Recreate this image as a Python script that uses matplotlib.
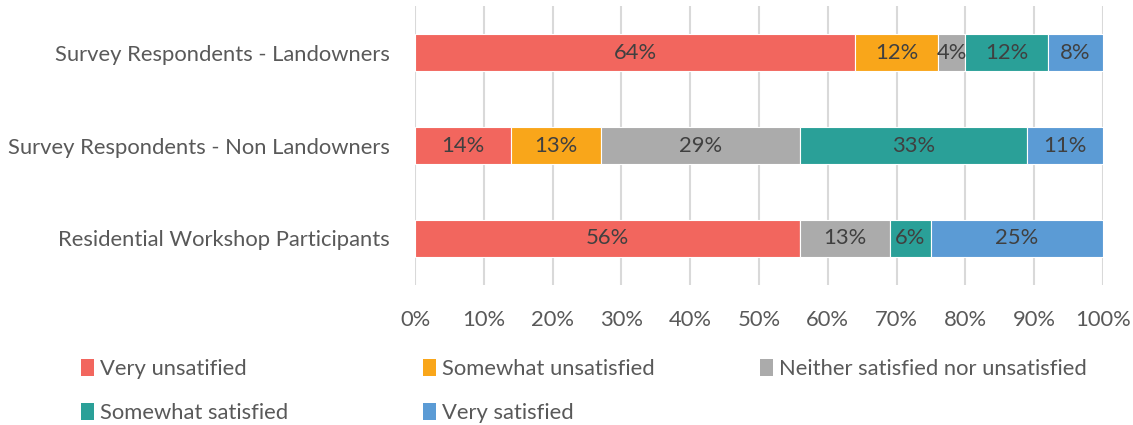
import numpy as np
import matplotlib.pyplot as plt
from matplotlib.patches import Patch
from matplotlib.ticker import MultipleLocator, PercentFormatter

# Groups, top to bottom
groups = ["Survey Respondents - Landowners",
          "Survey Respondents - Non Landowners",
          "Residential Workshop Participants"]

categories = ["Very unsatified", "Somewhat unsatisfied",
              "Neither satisfied nor unsatisfied",
              "Somewhat satisfied", "Very satisfied"]

very_unsatisfied = [64, 14, 56]
somewhat_unsatisfied = [12, 13, 0]
neither = [4, 29, 13]
somewhat_satisfied = [12, 33, 6]
very_satisfied = [8, 11, 25]

series = [very_unsatisfied, somewhat_unsatisfied, neither,
          somewhat_satisfied, very_satisfied]
colors = ["#F2665E", "#F9A61A", "#ABABAB", "#2AA098", "#5B9BD5"]

plt.rcParams['font.family'] = ['Lato', 'DejaVu Sans']
FS = 15.8

fig = plt.figure(figsize=(11.33, 4.25), dpi=100)
ax = fig.add_axes([0.3663, 0.33, 0.6072, 0.655])

y = np.arange(len(groups))
left = np.zeros(len(groups))
for vals, col in zip(series, colors):
    vals = np.array(vals, dtype=float)
    bars = ax.barh(y, vals, left=left, height=0.4, color=col,
                   edgecolor='white', linewidth=0.8, zorder=3)
    for b, v in zip(bars, vals):
        if v > 0:
            ax.text(b.get_x() + b.get_width() / 2, b.get_y() + b.get_height() / 2,
                    f"{v:.0f}%", ha='center', va='center',
                    fontsize=FS, color='#404040', zorder=4)
    left += vals

ax.set_xlim(0, 100)
ax.set_ylim(2.5, -0.5)
ax.set_yticks(y)
ax.set_yticklabels(groups, fontsize=FS, color='#595959')
ax.xaxis.set_major_locator(MultipleLocator(10))
ax.xaxis.set_major_formatter(PercentFormatter(decimals=0))
ax.tick_params(axis='x', labelsize=FS, colors='#595959', length=0, pad=18)
ax.tick_params(axis='y', length=0, pad=18)
ax.grid(axis='x', color='#D9D9D9', linewidth=1.5, zorder=0)
for s in ax.spines.values():
    s.set_visible(False)

# Legend laid out in a fixed grid like the original
col_x = [70 / 1133, 412 / 1133, 749 / 1133]
row_y = [1 - 369 / 425, 1 - 413 / 425]
for i, (lab, col) in enumerate(zip(categories, colors)):
    r, c = divmod(i, 3)
    fig.legend(handles=[Patch(facecolor=col)], labels=[lab],
               loc='center left', bbox_to_anchor=(col_x[c], row_y[r]),
               frameon=False, fontsize=FS, handlelength=0.6,
               handleheight=0.85, handletextpad=0.25, borderpad=0,
               labelcolor='#595959')

fig.savefig("out.png", dpi=100)
